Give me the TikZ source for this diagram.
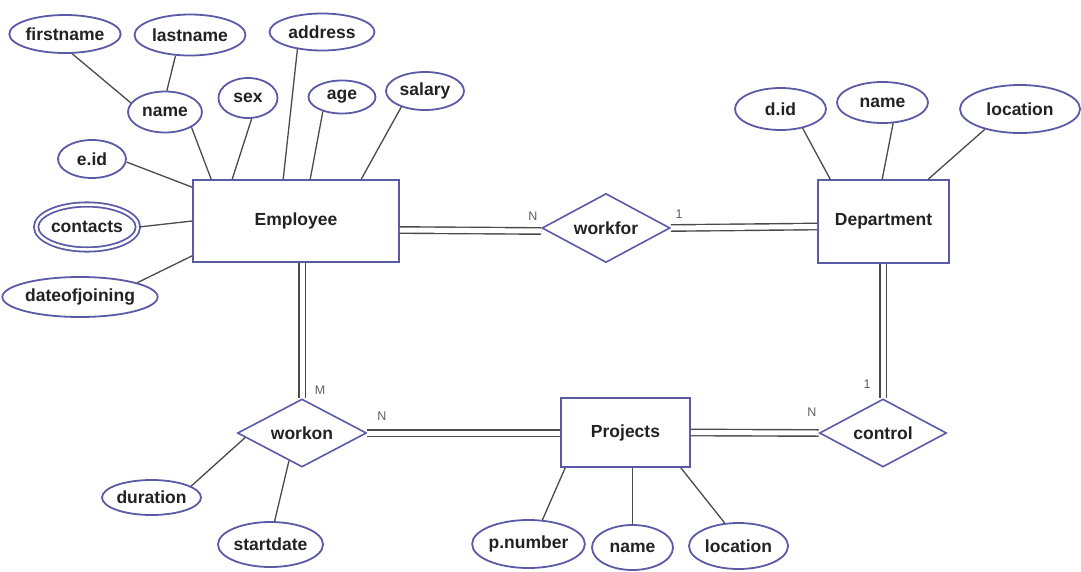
\documentclass[tikz,border=0pt]{standalone}
\usepackage{fontspec}
\setmainfont{Liberation Sans}
\usetikzlibrary{shapes.geometric,calc}
\definecolor{nodeblue}{HTML}{5A5AA6}
\definecolor{linegray}{HTML}{4A4A4A}
\definecolor{txt}{HTML}{222222}
\tikzset{
  lbl/.style={font=\fontsize{17.5}{20}\selectfont\bfseries, text=txt},
  attr/.style={ellipse, draw=nodeblue, line width=1.8pt, inner sep=0pt, fill=white, lbl},
  entity/.style={rectangle, draw=nodeblue, line width=1.6pt, inner sep=0pt, fill=white, lbl},
  rel/.style={diamond, draw=nodeblue, line width=1.6pt, inner sep=0pt, aspect=2, fill=white, lbl},
  conn/.style={draw=linegray, line width=1.3pt},
  dconn/.style={draw=linegray, line width=1.4pt, double=white, double distance=5pt},
  card/.style={font=\fontsize{12.5}{14}\selectfont, text=gray!75!black, inner sep=0pt}
}
\begin{document}
\begin{tikzpicture}[x=1pt,y=-1pt]
\useasboundingbox (0,0) rectangle (1081,571);

% entities
\node[entity, minimum width=206, minimum height=82] (emp) at (296,221) {Employee};
\node[entity, minimum width=131, minimum height=83] (dept) at (883.5,221.5) {Department};
\node[entity, minimum width=129, minimum height=69] (pr) at (625.5,432.5) {Projects};

% relationships
\node[rel, minimum width=128, minimum height=69] (wf) at (606,228) {workfor};
\node[rel, minimum width=129, minimum height=68] (wo) at (302,433) {workon};
\node[rel, minimum width=127, minimum height=68] (ctl) at (883,433) {control};

% employee attributes
\node[attr, minimum width=104, minimum height=38] (fn) at (65,34) {firstname};
\node[attr, minimum width=111, minimum height=41] (ln) at (190,35) {lastname};
\node[attr, minimum width=105, minimum height=37] (ad) at (322,32) {address};
\node[attr, minimum width=74, minimum height=41] (nm) at (165,112) {name};
\node[attr, minimum width=59, minimum height=40] (sx) at (248,98) {sex};
\node[attr, minimum width=67, minimum height=33] (ag) at (342,97) {age};
\node[attr, minimum width=78, minimum height=38] (sa) at (425,91) {salary};
\node[attr, minimum width=68, minimum height=38] (eid) at (92,159) {e.id};
\node[attr, double=white, double distance=2.5pt, minimum width=94, minimum height=45] (ct) at (87,227) {contacts};
\node[attr, minimum width=136, minimum height=40] (dj) at (80,297) {dateofjoining};

% department attributes
\node[attr, minimum width=91, minimum height=42] (did) at (780.5,109) {d.id};
\node[attr, minimum width=91, minimum height=41] (dn) at (882.5,102.5) {name};
\node[attr, minimum width=120, minimum height=48] (dl) at (1020,109) {location};

% workon attributes
\node[attr, minimum width=97, minimum height=35] (du) at (151.5,497.5) {duration};
\node[attr, minimum width=105, minimum height=45] (sd) at (270.5,544.5) {startdate};

% project attributes
\node[attr, minimum width=103, minimum height=48] (pn) at (528.5,544) {p.number};
\node[attr, minimum width=81, minimum height=45] (pnm) at (632.5,547.5) {name};
\node[attr, minimum width=99, minimum height=46] (pl) at (738.5,546) {location};

% attribute connectors
\draw[conn] (fn.-70) -- (nm.165);
\draw[conn] (ln.-125) -- (nm.85);
\draw[conn] (nm.-30) -- ([xshift=19pt]emp.north west);
\draw[conn] (sx.-80) -- ([xshift=40pt]emp.north west);
\draw[conn] (ad.-145) -- ([xshift=91pt]emp.north west);
\draw[conn] (ag.-143) -- ([xshift=118pt]emp.north west);
\draw[conn] (sa.-146) -- ([xshift=169pt]emp.north west);
\draw[conn] (eid.-5) -- ([yshift=-8pt]emp.north west);
\draw[conn] (ct.east) -- (emp.west);
\draw[conn] (dj.14) -- ([yshift=7pt]emp.south west);

\draw[conn] (did.-41) -- ([xshift=13pt]dept.north west);
\draw[conn] (dn.-63) -- ([xshift=65pt]dept.north west);
\draw[conn] (dl.-150) -- ([xshift=111pt]dept.north west);

\draw[conn] (du.16) -- ($(wo.west)!0.13!(wo.south)$);
\draw[conn] (sd.80) -- ($(wo.west)!0.8!(wo.south)$);

\draw[conn] (pn.60) -- ([xshift=5pt]pr.south west);
\draw[conn] (pnm.north) -- (pnm.north |- pr.south);
\draw[conn] (pl.121) -- ([xshift=-10pt]pr.south east);

% relationship connectors (double lines)
\draw[dconn] ([yshift=-9pt]emp.east) -- ([yshift=-3pt]wf.west);
\draw[dconn] (wf.east) -- ([yshift=-5pt]dept.west);
\draw[dconn] (wo.north |- emp.south) -- (wo.north);
\draw[dconn] (wo.east) -- (wo.east -| pr.west);
\draw[dconn] (pr.east) -- (ctl.west);
\draw[dconn] (ctl.north |- dept.south) -- (ctl.north);

% cardinalities
\node[card] (c1) at (533,216) {N};
\node[card] (c2) at (679,214) {1};
\node[card] (c3) at (320,390) {M};
\node[card] (c4) at (382,416) {N};
\node[card] (c5) at (812,412) {N};
\node[card] (c6) at (867,384) {1};
\end{tikzpicture}
\end{document}
